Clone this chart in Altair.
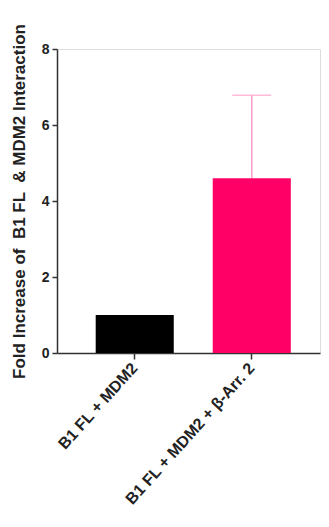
import altair as alt
import pandas as pd

categories = ["B1 FL + MDM2", "B1 FL + MDM2 + β-Arr. 2"]
means = [1.0, 4.6]
errors_upper = [1.0, 6.78]
colors = ["#000000", "#ff0066"]
has_err = [False, True]

df = pd.DataFrame({"cat": categories, "mean": means, "upper": errors_upper,
                   "color": colors, "err": has_err})

xscale = alt.Scale(domain=categories, paddingInner=0.333, paddingOuter=0.29, align=0.57)
x = alt.X("cat:N", scale=xscale, sort=categories,
          axis=alt.Axis(title=None, labelAngle=-48, labelAlign="right", labelBaseline="middle",
                        labelFont="Liberation Sans", labelFontWeight="bold", labelFontSize=16,
                        labelLimit=400,
                        labelColor="#222", tickSize=6, tickColor="#333", tickWidth=1.5,
                        domainColor="#333", domainWidth=1.5, labelPadding=6))
y = alt.Y("mean:Q", scale=alt.Scale(domain=[0, 8], nice=False),
          axis=alt.Axis(title="Fold Increase of \u00a0B1 FL \u00a0& MDM2 Interaction", values=[0, 2, 4, 6, 8],
                        format="d", grid=False, labelFont="Liberation Sans", labelFontWeight="bold",
                        labelFontSize=14, labelColor="#222", tickSize=5, tickColor="#333",
                        tickWidth=1.5, domainColor="#333", domainWidth=1.5, labelPadding=3,
                        titleFont="Liberation Sans", titleFontWeight="bold", titleFontSize=17,
                        titleColor="#222", titleX=-38, titleY=152, titleAngle=270,
                        titleAlign="center", titleBaseline="middle", titleLimit=600))

bars = alt.Chart(df).mark_bar().encode(
    x=x, y=y, color=alt.Color("color:N", scale=None))

err = alt.Chart(df).transform_filter("datum.err").mark_rule(color="#ff9ec6", strokeWidth=1.5).encode(
    x=alt.X("cat:N", scale=xscale, sort=categories), y="mean:Q", y2="upper:Q")
cap = alt.Chart(df).transform_filter("datum.err").mark_tick(color="#ff9ec6", thickness=1.5, size=39).encode(
    x=alt.X("cat:N", scale=xscale, sort=categories), y="upper:Q")

chart = alt.layer(err, cap, bars).properties(
    width=263, height=304,
    autosize=alt.AutoSizeParams(type="none"),
    padding={"left": 49, "top": 41, "right": 1, "bottom": 166},
).configure_view(stroke=None).configure(background="white")

chart.save("out.html", embed_options={"renderer": "svg", "actions": False})
